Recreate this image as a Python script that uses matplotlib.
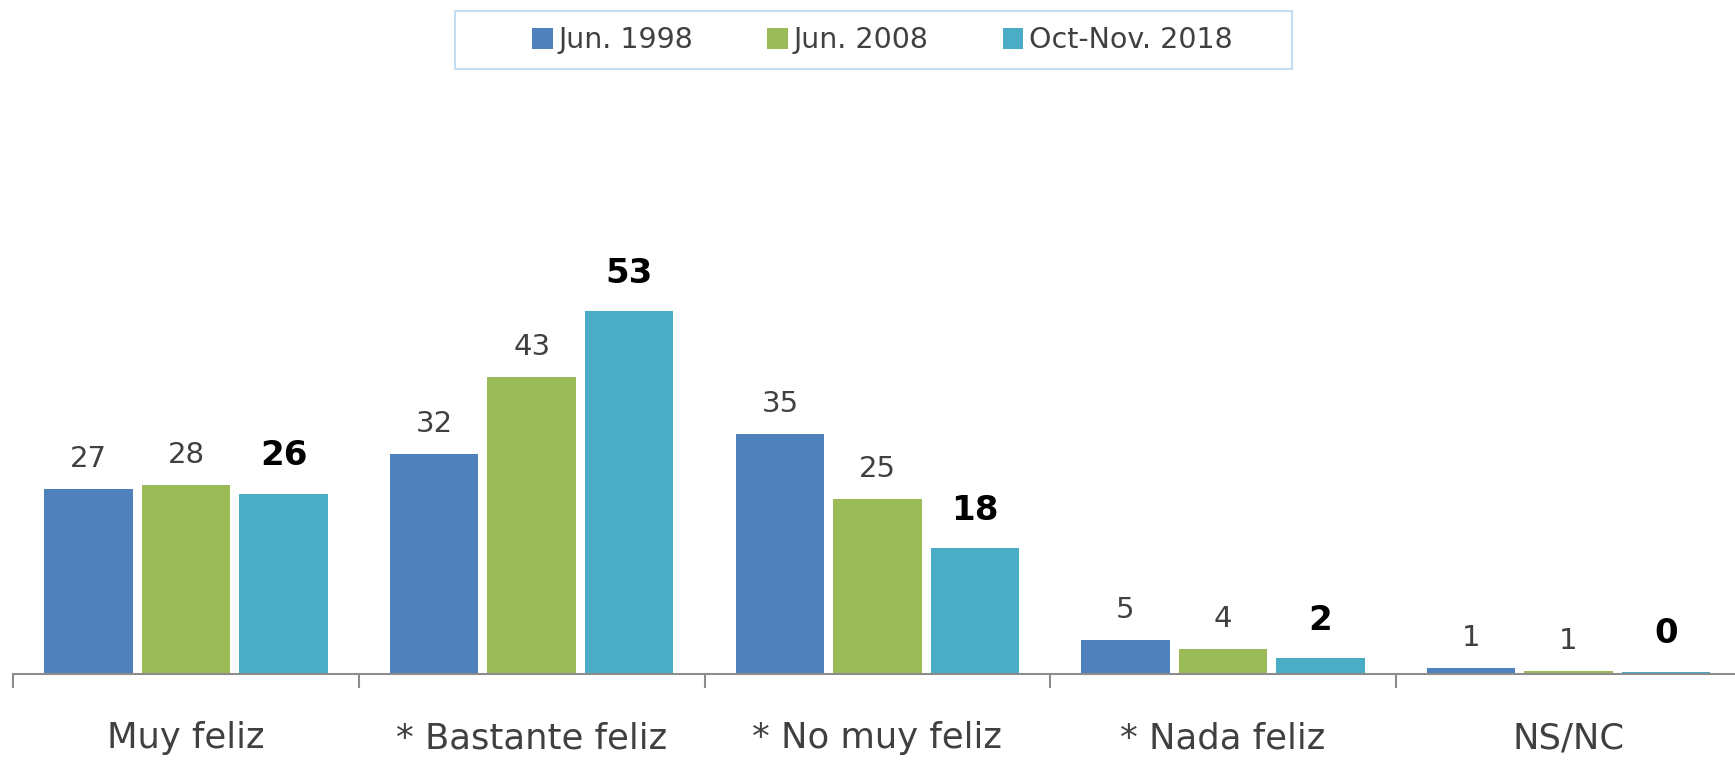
import matplotlib
matplotlib.use("Agg")
import matplotlib.pyplot as plt
from matplotlib.patches import Rectangle
import numpy as np

categories = ["Muy feliz", "* Bastante feliz", "* No muy feliz", "* Nada feliz", "NS/NC"]
series_names = ["Jun. 1998", "Jun. 2008", "Oct-Nov. 2018"]
values_1998 = [27.0, 32.1, 35.0, 4.9, 0.9]
values_2008 = [27.6, 43.3, 25.5, 3.6, 0.45]
values_2018 = [26.3, 53.0, 18.4, 2.3, 0.3]
labels_1998 = ["27", "32", "35", "5", "1"]
labels_2008 = ["28", "43", "25", "4", "1"]
labels_2018 = ["26", "53", "18", "2", "0"]
colors = ["#4F81BD", "#9BBB59", "#4BACC6"]

plt.rcParams['font.family'] = ['DejaVu Sans Condensed', 'DejaVu Sans']

W, H = 1735, 760
fig = plt.figure(figsize=(W / 100, H / 100), dpi=100)
left_px = 13.3
cat_px = 345.6
bottom_px = 86
ymax = 80
px_per_unit = 363 / 53
ax = fig.add_axes([left_px / W, bottom_px / H, (W - left_px) / W, ymax * px_per_unit / H])

x = np.arange(len(categories))
step = 0.282
width = 0.256
all_vals = [values_1998, values_2008, values_2018]
all_labels = [labels_1998, labels_2008, labels_2018]
for i, (vals, labs) in enumerate(zip(all_vals, all_labels)):
    pos = x + (i - 1) * step
    bars = ax.bar(pos, vals, width=width, color=colors[i], label=series_names[i], zorder=2)
    for b, lab in zip(bars, labs):
        if i == 2:
            ax.annotate(lab, (b.get_x() + b.get_width() / 2, b.get_height()),
                        xytext=(0, 20.5), textcoords="offset points", ha="center", va="baseline",
                        fontsize=24.5, fontweight="bold", color="black")
        else:
            ax.annotate(lab, (b.get_x() + b.get_width() / 2, b.get_height()),
                        xytext=(0, 16), textcoords="offset points", ha="center", va="baseline",
                        fontsize=21, color="#404040")

ax.set_xlim(-0.5, -0.5 + (W - left_px) / cat_px)
ax.set_ylim(0, ymax)
for s in ["left", "right", "top"]:
    ax.spines[s].set_visible(False)
ax.spines["bottom"].set_color("#8C8C8C")
ax.spines["bottom"].set_linewidth(1.5)
ax.set_yticks([])
ax.set_xticks(x)
ax.set_xticklabels(categories, fontsize=25.5, color="#404040")
ax.tick_params(axis="x", which="major", length=0, pad=34)
ax.set_xticks(x - 0.5, minor=True)
ax.tick_params(axis="x", which="minor", length=10, width=1.5, color="#8C8C8C", direction="out")

# legend box
rx0, ry0, rx1, ry1 = 455, 11, 1292, 69
fig.patches.append(Rectangle((rx0 / W, 1 - ry1 / H), (rx1 - rx0) / W, (ry1 - ry0) / H,
                             transform=fig.transFigure, facecolor="white",
                             edgecolor="#C5DDF0", linewidth=1.5, zorder=5))
leg = fig.legend(loc="center", bbox_to_anchor=(882.5 / W, 1 - 40.5 / H),
                 ncol=3, frameon=False, fontsize=20.5, handlelength=0.72, handleheight=0.72,
                 handletextpad=0.2, columnspacing=2.6, borderpad=0, borderaxespad=0)
leg.set_zorder(6)
for t in leg.get_texts():
    t.set_color("#404040")

fig.savefig("out.png", dpi=100)
